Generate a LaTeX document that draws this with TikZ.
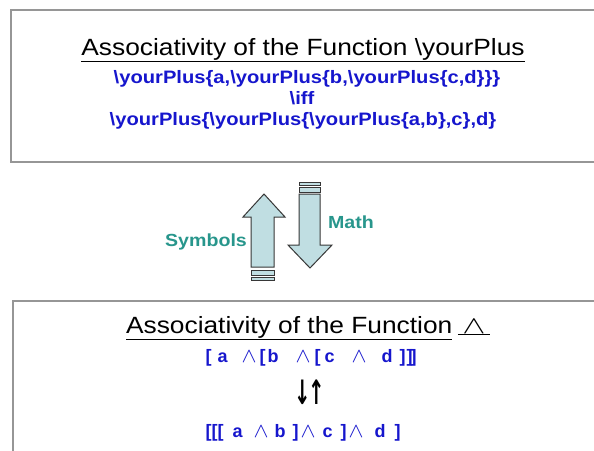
\documentclass[tikz,border=0pt]{standalone}
\usepackage{graphicx}
\usepackage{fontspec}
\setmainfont{Liberation Sans}
\newfontfamily\symfont{DejaVu Sans}
\definecolor{boxgray}{RGB}{150,150,150}
\definecolor{txtblue}{RGB}{22,22,205}
\definecolor{tealtxt}{RGB}{40,150,140}
\definecolor{arrfill}{RGB}{192,222,226}
\definecolor{arrline}{RGB}{55,55,55}
\newcommand{\hs}[1]{\scalebox{1.12}[1]{#1}}
\newcommand{\gat}[2]{\rlap{\hspace*{#1pt}#2}}
\newcommand{\thinwedge}{{\mdseries\scalebox{1.3}[1.2]{$\wedge$}}}
\begin{document}
\begin{tikzpicture}[x=1pt,y=-1pt,
  panel/.style={draw=boxgray,line width=1.5pt,fill=white},
  titletext/.style={anchor=base,inner sep=0pt,font=\fontsize{23.5}{26}\selectfont,text=black},
  codetext/.style={anchor=base,inner sep=0pt,font=\bfseries\fontsize{18}{20}\selectfont,text=txtblue},
  labeltext/.style={anchor=center,inner sep=0pt,font=\bfseries\fontsize{17.5}{20}\selectfont,text=tealtxt},
  bigarrow/.style={draw=arrline,line width=1pt,fill=arrfill,line join=miter}]
\useasboundingbox (0,0) rectangle (594,450);
\clip (0,0) rectangle (594,450);
\fill[white] (0,0) rectangle (594,450);
% panels
\draw[panel] (11,10) rectangle (610,162);
\draw[panel] (13,301) rectangle (610,470);
% top panel text
\node[titletext] (t1) at (303,55) {\hs{\underline{Associativity of the Function \textbackslash yourPlus}}};
\node[codetext] (l1) at (307,83) {\hs{\textbackslash yourPlus\{a,\textbackslash yourPlus\{b,\textbackslash yourPlus\{c,d\}\}\}}};
\node[codetext] (l2) at (302,104) {\hs{\textbackslash iff}};
\node[codetext] (l3) at (303,125) {\hs{\textbackslash yourPlus\{\textbackslash yourPlus\{\textbackslash yourPlus\{a,b\},c\},d\}}};
% up arrow
\draw[bigarrow] (251,267) -- (251,217) -- (243,217) -- (264,194) -- (285,217) -- (274,217) -- (274,267) -- cycle;
\draw[bigarrow] (251,270) rectangle (274,275);
\draw[bigarrow] (251,277.5) rectangle (274,280);
% down arrow
\draw[bigarrow] (299,194) -- (299,245) -- (288,245) -- (310,268) -- (332,245) -- (320,245) -- (320,194) -- cycle;
\draw[bigarrow] (299,182.5) rectangle (320,185);
\draw[bigarrow] (299,187) rectangle (320,192);
\node[labeltext] (sym) at (206,242) {\hs{Symbols}};
\node[labeltext] (math) at (351,222) {\hs{Math}};
% bottom panel text
\node[titletext] (t2) at (308,333) {\hs{\underline{Associativity of the Function}\hspace{5pt}\underline{\,\scalebox{1.25}[1]{$\wedge$}\,}}};
\node[codetext,anchor=base west] (b1) at (205,362) {\gat{0}{[}\gat{12}{a}\gat{36}{\thinwedge}\gat{54}{[}\gat{62}{b}\gat{90}{\thinwedge}\gat{109}{[}\gat{119}{c}\gat{146}{\thinwedge}\gat{176}{d}\gat{194}{]}\gat{201}{]}\gat{205}{]}};
\node[anchor=base,inner sep=0pt,font=\bfseries\fontsize{24}{26}\selectfont] (arr) at (310,404) {\scalebox{0.82}[1.4]{\symfont\bfseries ↓\kern-3pt↑}};
\node[codetext,anchor=base west] (b2) at (205,437) {\gat{0}{[}\gat{6}{[}\gat{12}{[}\gat{27}{a}\gat{48}{\thinwedge}\gat{69}{b}\gat{87}{]}\gat{95}{\thinwedge}\gat{117}{c}\gat{135}{]}\gat{143}{\thinwedge}\gat{169}{d}\gat{189}{]}};
\end{tikzpicture}
\end{document}
